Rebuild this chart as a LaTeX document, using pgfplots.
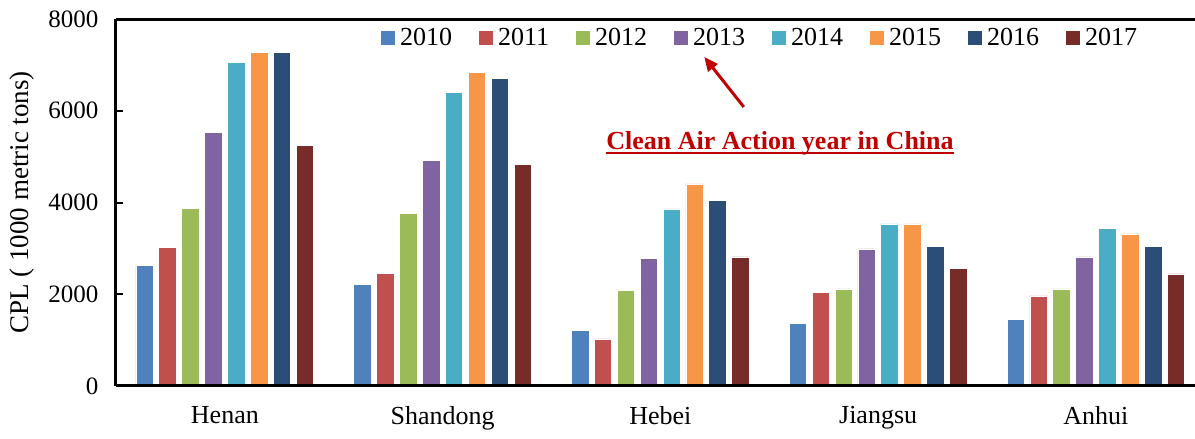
\documentclass[border=0pt]{standalone}
\usepackage{pgfplots}
\pgfplotsset{compat=1.18}
\usepackage{pgfplotstable}
\usepackage{fontspec}
\setmainfont{Liberation Serif}
\usetikzlibrary{arrows.meta}
\definecolor{c1}{HTML}{4F81BD}
\definecolor{c2}{HTML}{C0504D}
\definecolor{c3}{HTML}{9BBB59}
\definecolor{c4}{HTML}{8064A2}
\definecolor{c5}{HTML}{4BACC6}
\definecolor{c6}{HTML}{F79646}
\definecolor{c7}{HTML}{2C4D75}
\definecolor{c8}{HTML}{772C2A}
\definecolor{annred}{HTML}{C00000}
\pgfplotstableread{
x y2010 y2011 y2012 y2013 y2014 y2015 y2016 y2017
0 2633 3026 3863 5520 7059 7270 7270 5250
1 2206 2446 3754 4923 6398 6828 6697 4829
2 1214 1025 2086 2784 3859 4404 4048 2812
3 1367 2049 2115 2987 3532 3532 3045 2572
4 1454 1962 2115 2812 3438 3314 3045 2442
}\datatable
\begin{document}
\begin{tikzpicture}
\begin{axis}[
  scale only axis, width=1079pt, height=367pt,
  xmin=-0.5, xmax=4.455, ymin=0, ymax=8000,
  axis on top,
  ybar=5.4pt, bar width=17.5pt,
  xtick=data, xticklabels={Henan,Shandong,Hebei,Jiangsu,Anhui},
  ytick={0,2000,4000,6000,8000},
  axis x line*=box, axis y line*=left,
  axis line style={line width=3pt, black, -},
  every outer y axis line/.append style={-},
  every inner y axis line/.append style={-},
  every outer x axis line/.append style={-},
  x tick style={draw=none},
  y tick style={line width=2pt, black},
  major tick length=7pt, tick align=inside,
  ytick pos=left,
  /pgf/number format/assume math mode=true,
  /pgf/number format/1000 sep={},
  yticklabel style={font=\fontsize{25}{30}\selectfont, xshift=-14pt},
  xticklabel style={font=\fontsize{26}{30}\selectfont, yshift=-17pt},
  ylabel={CPL ( 1000 metric tons)},
  ylabel style={font=\fontsize{27}{30}\selectfont, at={(axis description cs:-0.0871,0.5)}, anchor=center},
  legend columns=8,
  legend style={draw=none, fill=none, at={(axis description cs:0.596,0.948)}, anchor=center,
    font=\fontsize{26}{30}\selectfont, nodes={inner sep=0pt},
    /tikz/every odd column/.append style={column sep=5pt},
    /tikz/every even column/.append style={column sep=27pt}},
  legend image code/.code={\path[#1,draw=none] (0pt,-7pt) rectangle (14pt,7pt);},
]
\addplot[fill=c1, draw=white, line width=0.8pt] table[x=x,y=y2010]{\datatable};
\addplot[fill=c2, draw=white, line width=0.8pt] table[x=x,y=y2011]{\datatable};
\addplot[fill=c3, draw=white, line width=0.8pt] table[x=x,y=y2012]{\datatable};
\addplot[fill=c4, draw=white, line width=0.8pt] table[x=x,y=y2013]{\datatable};
\addplot[fill=c5, draw=white, line width=0.8pt] table[x=x,y=y2014]{\datatable};
\addplot[fill=c6, draw=white, line width=0.8pt] table[x=x,y=y2015]{\datatable};
\addplot[fill=c7, draw=white, line width=0.8pt] table[x=x,y=y2016]{\datatable};
\addplot[fill=c8, draw=white, line width=0.8pt] table[x=x,y=y2017]{\datatable};
\legend{2010,2011,2012,2013,2014,2015,2016,2017}
\node[font=\bfseries\fontsize{26}{30}\selectfont, text=annred, inner sep=0pt, anchor=base] (ann) at (axis cs:2.549,5145) {Clean Air Action year in China};
\draw[annred, line width=2.7pt] ([yshift=-3pt]ann.base west) -- ([yshift=-3pt]ann.base east);
\draw[annred, line width=3pt, -{Triangle[length=14pt,width=12pt]}] (axis cs:2.383,6082) -- (axis cs:2.2016,7172);
\end{axis}
\pgfresetboundingbox
\path[use as bounding box] (-116pt,-53pt) rectangle (1079pt,386pt);
\end{tikzpicture}
\end{document}
